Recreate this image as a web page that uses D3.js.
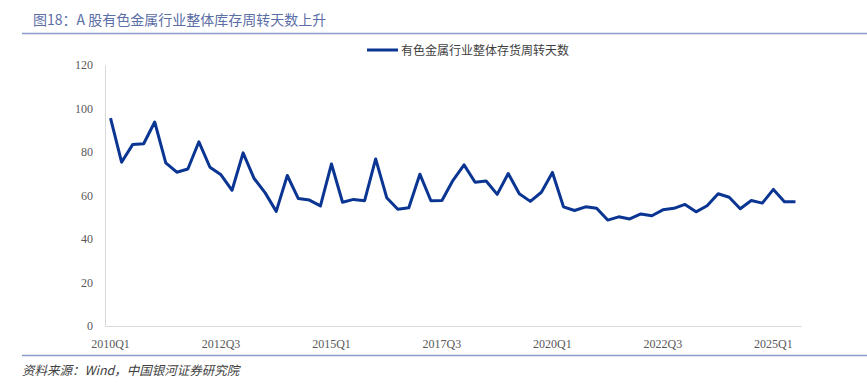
<!DOCTYPE html>
<html lang="zh">
<head>
    <meta charset="UTF-8">
    <title>图18</title>
    <style>
        body { margin: 0; background: #fff; }
        svg { display: block; }
        .tick text { font-family: 'Liberation Serif', 'Times New Roman', serif; font-size: 12px; fill: #595959; }
    </style>
</head>
<body>
    <div id="chart"></div>

    <script src="https://d3js.org/d3.v7.min.js"></script>
    <script>
        // quarters 2010Q1 .. 2025Q3
        const years = d3.range(2010, 2026);
        const quarters = [];
        years.forEach(y => [1, 2, 3, 4].forEach(q => quarters.push(y + "Q" + q)));
        const categories = quarters.slice(0, 63);

        const turnoverDays = [
            95.6, 75.3, 83.4, 83.8, 93.8, 75.0, 70.7, 72.2, 84.7, 73.0,
            69.5, 62.4, 79.6, 67.8, 61.2, 52.7, 69.2, 58.6, 57.9, 55.2,
            74.5, 56.9, 58.2, 57.6, 76.8, 59.0, 53.7, 54.4, 69.8, 57.6,
            57.7, 67.0, 74.1, 66.1, 66.7, 60.5, 70.1, 60.8, 57.3, 61.5,
            70.6, 54.8, 53.1, 54.8, 54.1, 48.7, 50.2, 49.2, 51.5, 50.7,
            53.4, 54.1, 55.9, 52.5, 55.3, 60.8, 59.2, 53.9, 57.7, 56.5,
            62.8, 57.1, 57.1
        ];

        const tickLabels = ["2010Q1", "2012Q3", "2015Q1", "2017Q3", "2020Q1", "2022Q3", "2025Q1"];
        const yTicks = [0, 20, 40, 60, 80, 100, 120];

        const title = "图18：A 股有色金属行业整体库存周转天数上升";
        const seriesName = "有色金属行业整体存货周转天数";
        const source = "资料来源：Wind，中国银河证券研究院";

        const width = 867, height = 388;
        const margin = { left: 105, right: 66, top: 65, bottom: 62 };

        const svg = d3.select("#chart").append("svg")
            .attr("width", width)
            .attr("height", height);

        // title + rule
        svg.append("text")
            .attr("x", 33).attr("y", 25)
            .attr("font-family", "'Noto Sans CJK SC', sans-serif")
            .attr("font-size", 14)
            .attr("fill", "#5b6ea6")
            .text(title);
        svg.append("line")
            .attr("x1", 22).attr("x2", 867)
            .attr("y1", 33.5).attr("y2", 33.5)
            .attr("stroke", "#8a9ccc").attr("stroke-width", 1.5);

        const x = d3.scaleBand()
            .domain(categories)
            .range([margin.left, width - margin.right]);

        const y = d3.scaleLinear()
            .domain([0, 120])
            .range([height - margin.bottom, margin.top]);

        // y axis
        const yAxis = svg.append("g")
            .attr("transform", `translate(${margin.left},0)`)
            .call(d3.axisLeft(y).tickValues(yTicks).tickSize(0).tickPadding(12));
        yAxis.select(".domain").attr("stroke", "#d9d9d9");

        // x axis
        const xAxis = svg.append("g")
            .attr("transform", `translate(0,${height - margin.bottom})`)
            .call(d3.axisBottom(x).tickValues(tickLabels).tickSize(0).tickPadding(13));
        xAxis.select(".domain").attr("stroke", "#d9d9d9");

        // series line
        const line = d3.line()
            .x((d, i) => x(categories[i]) + x.bandwidth() / 2)
            .y(d => y(d));

        svg.append("path")
            .datum(turnoverDays)
            .attr("fill", "none")
            .attr("stroke", "#0b3592")
            .attr("stroke-width", 3)
            .attr("stroke-linejoin", "round")
            .attr("d", line);

        // legend
        svg.append("line")
            .attr("x1", 367).attr("x2", 398)
            .attr("y1", 50).attr("y2", 50)
            .attr("stroke", "#0b3592").attr("stroke-width", 3);
        svg.append("text")
            .attr("x", 401).attr("y", 54.5)
            .attr("font-family", "'Noto Sans CJK SC', sans-serif")
            .attr("font-size", 12)
            .attr("fill", "#404040")
            .text(seriesName);

        // bottom rule + source
        svg.append("line")
            .attr("x1", 22).attr("x2", 867)
            .attr("y1", 355.5).attr("y2", 355.5)
            .attr("stroke", "#8a9ccc").attr("stroke-width", 1.5);
        svg.append("text")
            .attr("x", 22).attr("y", 375)
            .attr("font-family", "'Noto Sans CJK SC', sans-serif")
            .attr("font-size", 12.5)
            .attr("font-style", "italic")
            .attr("fill", "#404040")
            .text(source);
    </script>
</body>
</html>
